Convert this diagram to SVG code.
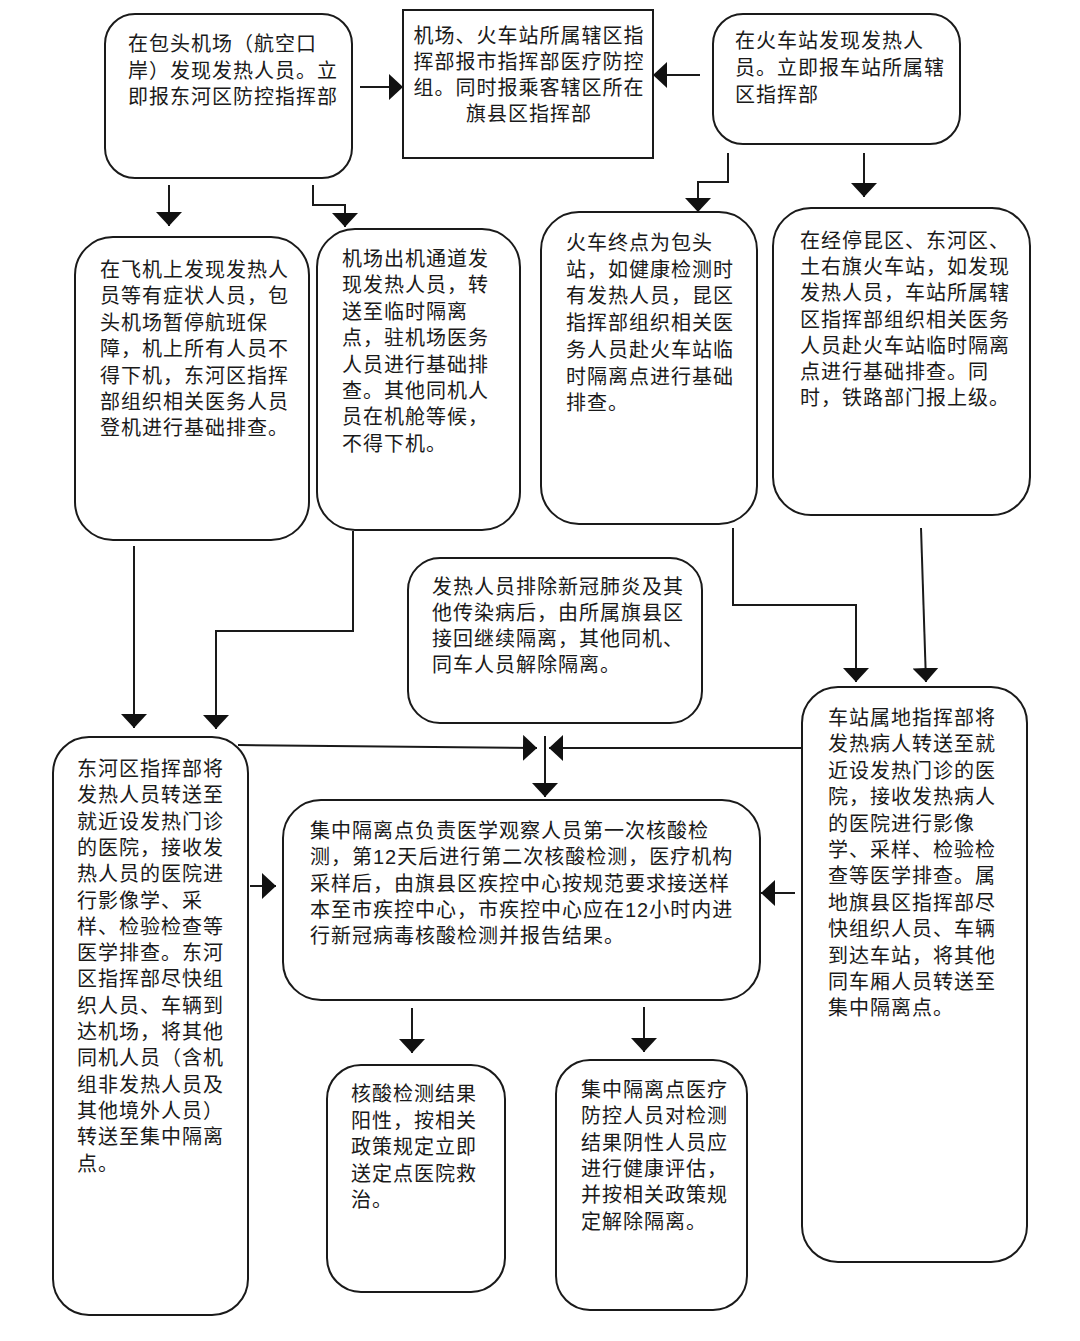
<svg xmlns="http://www.w3.org/2000/svg" width="1080" height="1341" viewBox="0 0 1080 1341">
<style>
.box{fill:#fff;stroke:#1a1a1a;stroke-width:2}
.t{font-family:"Liberation Sans","Noto Sans CJK SC",sans-serif;font-size:20px;letter-spacing:1px;fill:#1a1a1a}
.c{fill:none;stroke:#1a1a1a;stroke-width:2}
</style>
<defs>
<marker id="ah" viewBox="0 0 14 26" refX="14" refY="13" markerWidth="14" markerHeight="26" markerUnits="userSpaceOnUse" orient="auto">
<path d="M0,0 L14,13 L0,26 z" fill="#111"/>
</marker>
</defs>
<rect width="1080" height="1341" fill="#fff"/>

<g id="n1"><rect class="box" x="105" y="14" width="247" height="164" rx="30"/>
<text class="t"><tspan x="128" y="51">在包头机场（航空口</tspan><tspan x="128" dy="26.5">岸）发现发热人员。立</tspan><tspan x="128" dy="26.5">即报东河区防控指挥部</tspan></text></g>

<g id="n2"><rect class="box" x="403" y="10" width="250" height="148"/>
<text class="t" text-anchor="middle"><tspan x="529" y="43">机场、火车站所属辖区指</tspan><tspan x="529" dy="26">挥部报市指挥部医疗防控</tspan><tspan x="529" dy="26">组。同时报乘客辖区所在</tspan><tspan x="529" dy="26">旗县区指挥部</tspan></text></g>

<g id="n3"><rect class="box" x="713" y="14" width="247" height="130" rx="30"/>
<text class="t"><tspan x="735" y="48">在火车站发现发热人</tspan><tspan x="735" dy="27">员。立即报车站所属辖</tspan><tspan x="735" dy="27">区指挥部</tspan></text></g>

<g id="n4"><rect class="box" x="75" y="237" width="234" height="303" rx="38"/>
<text class="t"><tspan x="100" y="277">在飞机上发现发热人</tspan><tspan x="100" dy="26.4">员等有症状人员，包</tspan><tspan x="100" dy="26.4">头机场暂停航班保</tspan><tspan x="100" dy="26.4">障，机上所有人员不</tspan><tspan x="100" dy="26.4">得下机，东河区指挥</tspan><tspan x="100" dy="26.4">部组织相关医务人员</tspan><tspan x="100" dy="26.4">登机进行基础排查。</tspan></text></g>

<g id="n5"><rect class="box" x="317" y="229" width="203" height="301" rx="38"/>
<text class="t"><tspan x="342" y="266">机场出机通道发</tspan><tspan x="342" dy="26.4">现发热人员，转</tspan><tspan x="342" dy="26.4">送至临时隔离</tspan><tspan x="342" dy="26.4">点，驻机场医务</tspan><tspan x="342" dy="26.4">人员进行基础排</tspan><tspan x="342" dy="26.4">查。其他同机人</tspan><tspan x="342" dy="26.4">员在机舱等候，</tspan><tspan x="342" dy="26.4">不得下机。</tspan></text></g>

<g id="n6"><rect class="box" x="541" y="212" width="216" height="312" rx="38"/>
<text class="t"><tspan x="566" y="250">火车终点为包头</tspan><tspan x="566" dy="26.7">站，如健康检测时</tspan><tspan x="566" dy="26.7">有发热人员，昆区</tspan><tspan x="566" dy="26.7">指挥部组织相关医</tspan><tspan x="566" dy="26.7">务人员赴火车站临</tspan><tspan x="566" dy="26.7">时隔离点进行基础</tspan><tspan x="566" dy="26.7">排查。</tspan></text></g>

<g id="n7"><rect class="box" x="773" y="208" width="257" height="307" rx="38"/>
<text class="t"><tspan x="800" y="248">在经停昆区、东河区、</tspan><tspan x="800" dy="26.2">土右旗火车站，如发现</tspan><tspan x="800" dy="26.2">发热人员，车站所属辖</tspan><tspan x="800" dy="26.2">区指挥部组织相关医务</tspan><tspan x="800" dy="26.2">人员赴火车站临时隔离</tspan><tspan x="800" dy="26.2">点进行基础排查。同</tspan><tspan x="800" dy="26.2">时，铁路部门报上级。</tspan></text></g>

<g id="n8"><rect class="box" x="408" y="558" width="294" height="165" rx="32"/>
<text class="t"><tspan x="432" y="594">发热人员排除新冠肺炎及其</tspan><tspan x="432" dy="26">他传染病后，由所属旗县区</tspan><tspan x="432" dy="26">接回继续隔离，其他同机、</tspan><tspan x="432" dy="26">同车人员解除隔离。</tspan></text></g>

<g id="n9"><rect class="box" x="53" y="737" width="195" height="578" rx="36"/>
<text class="t"><tspan x="77" y="776">东河区指挥部将</tspan><tspan x="77" dy="26.3">发热人员转送至</tspan><tspan x="77" dy="26.3">就近设发热门诊</tspan><tspan x="77" dy="26.3">的医院，接收发</tspan><tspan x="77" dy="26.3">热人员的医院进</tspan><tspan x="77" dy="26.3">行影像学、采</tspan><tspan x="77" dy="26.3">样、检验检查等</tspan><tspan x="77" dy="26.3">医学排查。东河</tspan><tspan x="77" dy="26.3">区指挥部尽快组</tspan><tspan x="77" dy="26.3">织人员、车辆到</tspan><tspan x="77" dy="26.3">达机场，将其他</tspan><tspan x="77" dy="26.3">同机人员（含机</tspan><tspan x="77" dy="26.3">组非发热人员及</tspan><tspan x="77" dy="26.3">其他境外人员）</tspan><tspan x="77" dy="26.3">转送至集中隔离</tspan><tspan x="77" dy="26.3">点。</tspan></text></g>

<g id="n10"><rect class="box" x="283" y="800" width="477" height="200" rx="38"/>
<text class="t"><tspan x="310" y="838">集中隔离点负责医学观察人员第一次核酸检</tspan><tspan x="310" dy="26.3">测，第12天后进行第二次核酸检测，医疗机构</tspan><tspan x="310" dy="26.3">采样后，由旗县区疾控中心按规范要求接送样</tspan><tspan x="310" dy="26.3">本至市疾控中心，市疾控中心应在12小时内进</tspan><tspan x="310" dy="26.3">行新冠病毒核酸检测并报告结果。</tspan></text></g>

<g id="n11"><rect class="box" x="802" y="687" width="225" height="575" rx="36"/>
<text class="t"><tspan x="828" y="725">车站属地指挥部将</tspan><tspan x="828" dy="26.4">发热病人转送至就</tspan><tspan x="828" dy="26.4">近设发热门诊的医</tspan><tspan x="828" dy="26.4">院，接收发热病人</tspan><tspan x="828" dy="26.4">的医院进行影像</tspan><tspan x="828" dy="26.4">学、采样、检验检</tspan><tspan x="828" dy="26.4">查等医学排查。属</tspan><tspan x="828" dy="26.4">地旗县区指挥部尽</tspan><tspan x="828" dy="26.4">快组织人员、车辆</tspan><tspan x="828" dy="26.4">到达车站，将其他</tspan><tspan x="828" dy="26.4">同车厢人员转送至</tspan><tspan x="828" dy="26.4">集中隔离点。</tspan></text></g>

<g id="n12"><rect class="box" x="327" y="1065" width="178" height="227" rx="34"/>
<text class="t"><tspan x="351" y="1101">核酸检测结果</tspan><tspan x="351" dy="26.5">阳性，按相关</tspan><tspan x="351" dy="26.5">政策规定立即</tspan><tspan x="351" dy="26.5">送定点医院救</tspan><tspan x="351" dy="26.5">治。</tspan></text></g>

<g id="n13"><rect class="box" x="556" y="1060" width="191" height="250" rx="34"/>
<text class="t"><tspan x="581" y="1097">集中隔离点医疗</tspan><tspan x="581" dy="26.3">防控人员对检测</tspan><tspan x="581" dy="26.3">结果阴性人员应</tspan><tspan x="581" dy="26.3">进行健康评估，</tspan><tspan x="581" dy="26.3">并按相关政策规</tspan><tspan x="581" dy="26.3">定解除隔离。</tspan></text></g>

<g id="connectors">
<path class="c" d="M360,87 H403" marker-end="url(#ah)"/>
<path class="c" d="M700,75 H653" marker-end="url(#ah)"/>
<path class="c" d="M169,185 V226" marker-end="url(#ah)"/>
<path class="c" d="M313,185 V205 H345 V227" marker-end="url(#ah)"/>
<path class="c" d="M728,153 V182 H698 V212" marker-end="url(#ah)"/>
<path class="c" d="M864,153 V197" marker-end="url(#ah)"/>
<path class="c" d="M134,546 V728" marker-end="url(#ah)"/>
<path class="c" d="M353,531 V631 H216 V729" marker-end="url(#ah)"/>
<path class="c" d="M733,528 V605 H856 V682" marker-end="url(#ah)"/>
<path class="c" d="M921,528 L926,682" marker-end="url(#ah)"/>
<path class="c" d="M238,745 L537,748" marker-end="url(#ah)"/>
<path class="c" d="M802,748 H549" marker-end="url(#ah)"/>
<path class="c" d="M545,736 V797" marker-end="url(#ah)"/>
<path class="c" d="M250,886 H276" marker-end="url(#ah)"/>
<path class="c" d="M795,893 H761" marker-end="url(#ah)"/>
<path class="c" d="M412,1008 V1053" marker-end="url(#ah)"/>
<path class="c" d="M644,1007 V1052" marker-end="url(#ah)"/>
</g>
</svg>
